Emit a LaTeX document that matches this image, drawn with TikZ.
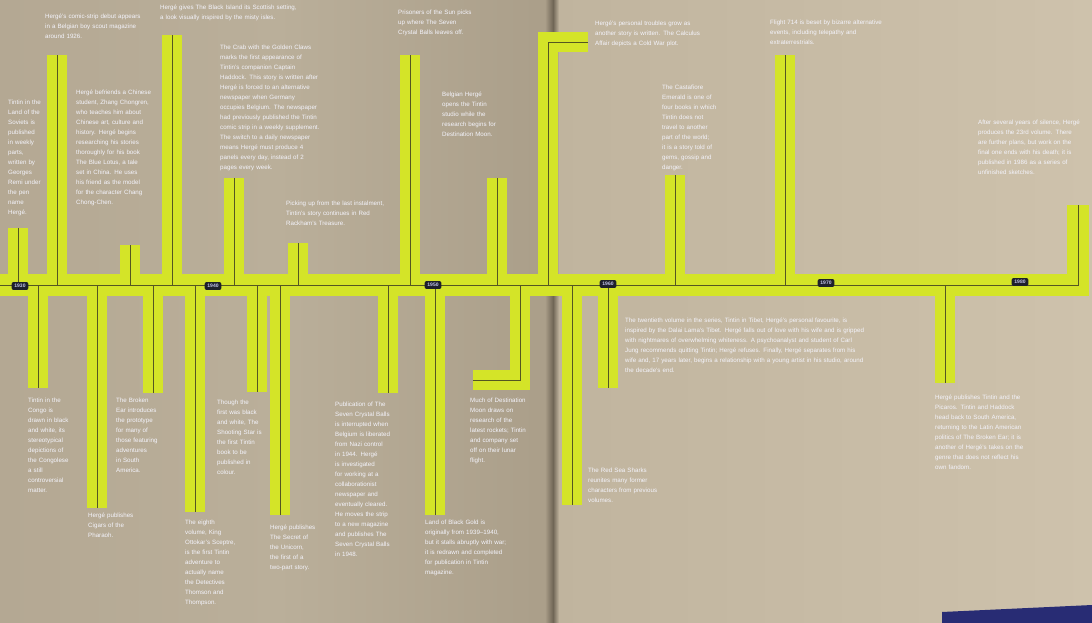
\documentclass[tikz,border=0pt]{standalone}
\usepackage{fontspec}
\setmainfont{Liberation Sans}
\hyphenpenalty=10000
\exhyphenpenalty=10000
\definecolor{lime}{RGB}{212,228,40}
\definecolor{coreline}{RGB}{84,86,34}
\definecolor{notetext}{RGB}{244,244,252}
\definecolor{yearfill}{RGB}{30,32,44}
\definecolor{yeartext}{RGB}{196,198,236}
\definecolor{pageL}{RGB}{180,168,147}
\definecolor{pageLm}{RGB}{186,175,154}
\definecolor{pageLg}{RGB}{170,158,137}
\definecolor{pageRg}{RGB}{192,180,158}
\definecolor{pageR}{RGB}{206,194,172}
\definecolor{gutter}{RGB}{112,102,86}
\definecolor{coverblue}{RGB}{40,44,116}
\begin{document}
\begin{tikzpicture}[x=1pt,y=-1pt,
  track/.style={draw=lime,line width=20pt,line join=miter},
  core/.style={draw=coreline,line width=0.6pt,line join=miter},
  note/.style={anchor=north west,inner sep=0pt,text=notetext,
    font=\fontsize{6.2}{10}\selectfont,align=left},
  yearbox/.style={fill=yearfill,rounded corners=2pt,text=yeartext,
    font=\fontsize{5}{5}\selectfont\bfseries,inner xsep=2.8pt,inner ysep=2.2pt}]
% ---------- pages ----------
\useasboundingbox (0,0) rectangle (1092,623);
\shade[left color=pageL,right color=pageLg,middle color=pageLm] (0,0) rectangle (553,623);
\shade[left color=pageRg,right color=pageR] (553,0) rectangle (1092,623);
\shade[left color=pageLg,right color=gutter] (545,0) rectangle (553,623);
\shade[left color=gutter,right color=pageRg] (553,0) rectangle (559,623);
\fill[coverblue] (942,612) -- (1092,605) -- (1092,623) -- (942,623) -- cycle;
% ---------- coordinates ----------
\coordinate (m0) at (0,285);
\coordinate (mR) at (1078,285);
\coordinate (mRe) at (1078,205);
% up branches
\coordinate (u1) at (18,285);   \coordinate (u1e) at (18,228);
\coordinate (u2) at (57,285);   \coordinate (u2e) at (57,55);
\coordinate (u3) at (130,285);  \coordinate (u3e) at (130,245);
\coordinate (u4) at (172,285);  \coordinate (u4e) at (172,35);
\coordinate (u5) at (234,285);  \coordinate (u5e) at (234,178);
\coordinate (u6) at (298,285);  \coordinate (u6e) at (298,243);
\coordinate (u7) at (410,285);  \coordinate (u7e) at (410,55);
\coordinate (u8) at (497,285);  \coordinate (u8e) at (497,178);
\coordinate (u9) at (548,285);  \coordinate (u9k) at (548,42); \coordinate (u9e) at (588,42);
\coordinate (u10) at (675,285); \coordinate (u10e) at (675,175);
\coordinate (u11) at (785,285); \coordinate (u11e) at (785,55);
% down branches
\coordinate (d1) at (38,285);   \coordinate (d1e) at (38,388);
\coordinate (d2) at (97,285);   \coordinate (d2e) at (97,508);
\coordinate (d3) at (153,285);  \coordinate (d3e) at (153,393);
\coordinate (d4) at (195,285);  \coordinate (d4e) at (195,512);
\coordinate (d5) at (257,285);  \coordinate (d5e) at (257,392);
\coordinate (d6) at (280,285);  \coordinate (d6e) at (280,515);
\coordinate (d7) at (388,285);  \coordinate (d7e) at (388,393);
\coordinate (d8) at (435,285);  \coordinate (d8e) at (435,515);
\coordinate (d9) at (520,285);  \coordinate (d9k) at (520,380); \coordinate (d9e) at (473,380);
\coordinate (d10) at (572,285); \coordinate (d10e) at (572,505);
\coordinate (d11) at (608,285); \coordinate (d11e) at (608,388);
\coordinate (d12) at (945,285); \coordinate (d12e) at (945,383);
% ---------- yellow tracks ----------
\draw[track,line width=22pt] (m0) -- (mR) -- (mRe);
\foreach \n in {1,...,8,10,11} {\draw[track] (u\n) -- (u\n e);}
\draw[track] (u9) -- (u9k) -- (u9e);
\foreach \n in {1,...,8,10,11,12} {\draw[track] (d\n) -- (d\n e);}
\draw[track] (d9) -- (d9k) -- (d9e);
% ---------- centre lines ----------
\draw[core] (m0) -- (mR) -- (mRe);
\foreach \n in {1,...,8,10,11} {\draw[core] (u\n) -- (u\n e);}
\draw[core] (u9) -- (u9k) -- (u9e);
\foreach \n in {1,...,8,10,11,12} {\draw[core] (d\n) -- (d\n e);}
\draw[core] (d9) -- (d9k) -- (d9e);
% ---------- year labels ----------
\node[yearbox] (y1930) at (20,286) {1930};
\node[yearbox] (y1940) at (213,286) {1940};
\node[yearbox] (y1950) at (433,285) {1950};
\node[yearbox] (y1960) at (608,284) {1960};
\node[yearbox] (y1970) at (826,283) {1970};
\node[yearbox] (y1980) at (1020,282) {1980};
% ---------- notes above ----------
\node[note,text width=33pt] (t1) at (8,100) {Tintin in the Land of the Soviets is published in weekly parts, written by Georges Remi under the pen name Hergé.};
\node[note,text width=96pt] (t2) at (45,14) {Hergé's comic-strip debut appears in a Belgian boy scout magazine around 1926.};
\node[note,text width=78pt] (t3) at (76,90) {Hergé befriends a Chinese student, Zhang Chongren, who teaches him about Chinese art, culture and history. Hergé begins researching his stories thoroughly for his book The Blue Lotus, a tale set in China. He uses his friend as the model for the character Chang Chong-Chen.};
\node[note,text width=140pt] (t4) at (160,5) {Hergé gives The Black Island its Scottish setting, a look visually inspired by the misty isles.};
\node[note,text width=100pt] (t5) at (220,45) {The Crab with the Golden Claws marks the first appearance of Tintin's companion Captain Haddock. This story is written after Hergé is forced to an alternative newspaper when Germany occupies Belgium. The newspaper had previously published the Tintin comic strip in a weekly supplement. The switch to a daily newspaper means Hergé must produce 4 panels every day, instead of 2 pages every week.};
\node[note,text width=104pt] (t6) at (286,201) {Picking up from the last instalment, Tintin's story continues in Red Rackham's Treasure.};
\node[note,text width=74pt] (t7) at (398,10) {Prisoners of the Sun picks up where The Seven Crystal Balls leaves off.};
\node[note,text width=54pt] (t8) at (442,92) {Belgian Hergé opens the Tintin studio while the research begins for Destination Moon.};
\node[note,text width=118pt] (t9) at (595,21) {Hergé's personal troubles grow as another story is written. The Calculus Affair depicts a Cold War plot.};
\node[note,text width=56pt] (t10) at (662,85) {The Castafiore Emerald is one of four books in which Tintin does not travel to another part of the world; it is a story told of gems, gossip and danger.};
\node[note,text width=122pt] (t11) at (770,20) {Flight 714 is beset by bizarre alternative events, including telepathy and extraterrestrials.};
\node[note,text width=106pt] (t12) at (978,120) {After several years of silence, Hergé produces the 23rd volume. There are further plans, but work on the final one ends with his death; it is published in 1986 as a series of unfinished sketches.};
% ---------- notes below ----------
\node[note,text width=42pt] (b1) at (28,398) {Tintin in the Congo is drawn in black and white, its stereotypical depictions of the Congolese a still controversial matter.};
\node[note,text width=56pt] (b2) at (88,513) {Hergé publishes Cigars of the Pharaoh.};
\node[note,text width=42pt] (b3) at (116,398) {The Broken Ear introduces the prototype for many of those featuring adventures in South America.};
\node[note,text width=50pt] (b4) at (185,520) {The eighth volume, King Ottokar's Sceptre, is the first Tintin adventure to actually name the Detectives Thomson and Thompson.};
\node[note,text width=48pt] (b5) at (217,400) {Though the first was black and white, The Shooting Star is the first Tintin book to be published in colour.};
\node[note,text width=46pt] (b6) at (270,525) {Hergé publishes The Secret of the Unicorn, the first of a two-part story.};
\node[note,text width=56pt] (b7) at (335,402) {Publication of The Seven Crystal Balls is interrupted when Belgium is liberated from Nazi control in 1944. Hergé is investigated for working at a collaborationist newspaper and eventually cleared. He moves the strip to a new magazine and publishes The Seven Crystal Balls in 1948.};
\node[note,text width=56pt] (b8) at (470,398) {Much of Destination Moon draws on research of the latest rockets; Tintin and company set off on their lunar flight.};
\node[note,text width=82pt] (b9) at (425,520) {Land of Black Gold is originally from 1939--1940, but it stalls abruptly with war; it is redrawn and completed for publication in Tintin magazine.};
\node[note,text width=78pt] (b10) at (588,468) {The Red Sea Sharks reunites many former characters from previous volumes.};
\node[note,text width=242pt] (b11) at (625,318) {The twentieth volume in the series, Tintin in Tibet, Hergé's personal favourite, is inspired by the Dalai Lama's Tibet. Hergé falls out of love with his wife and is gripped with nightmares of overwhelming whiteness. A psychoanalyst and student of Carl Jung recommends quitting Tintin; Hergé refuses. Finally, Hergé separates from his wife and, 17 years later, begins a relationship with a young artist in his studio, around the decade's end.};
\node[note,text width=90pt] (b12) at (935,395) {Hergé publishes Tintin and the Picaros. Tintin and Haddock head back to South America, returning to the Latin American politics of The Broken Ear; it is another of Hergé's takes on the genre that does not reflect his own fandom.};
\end{tikzpicture}
\end{document}
